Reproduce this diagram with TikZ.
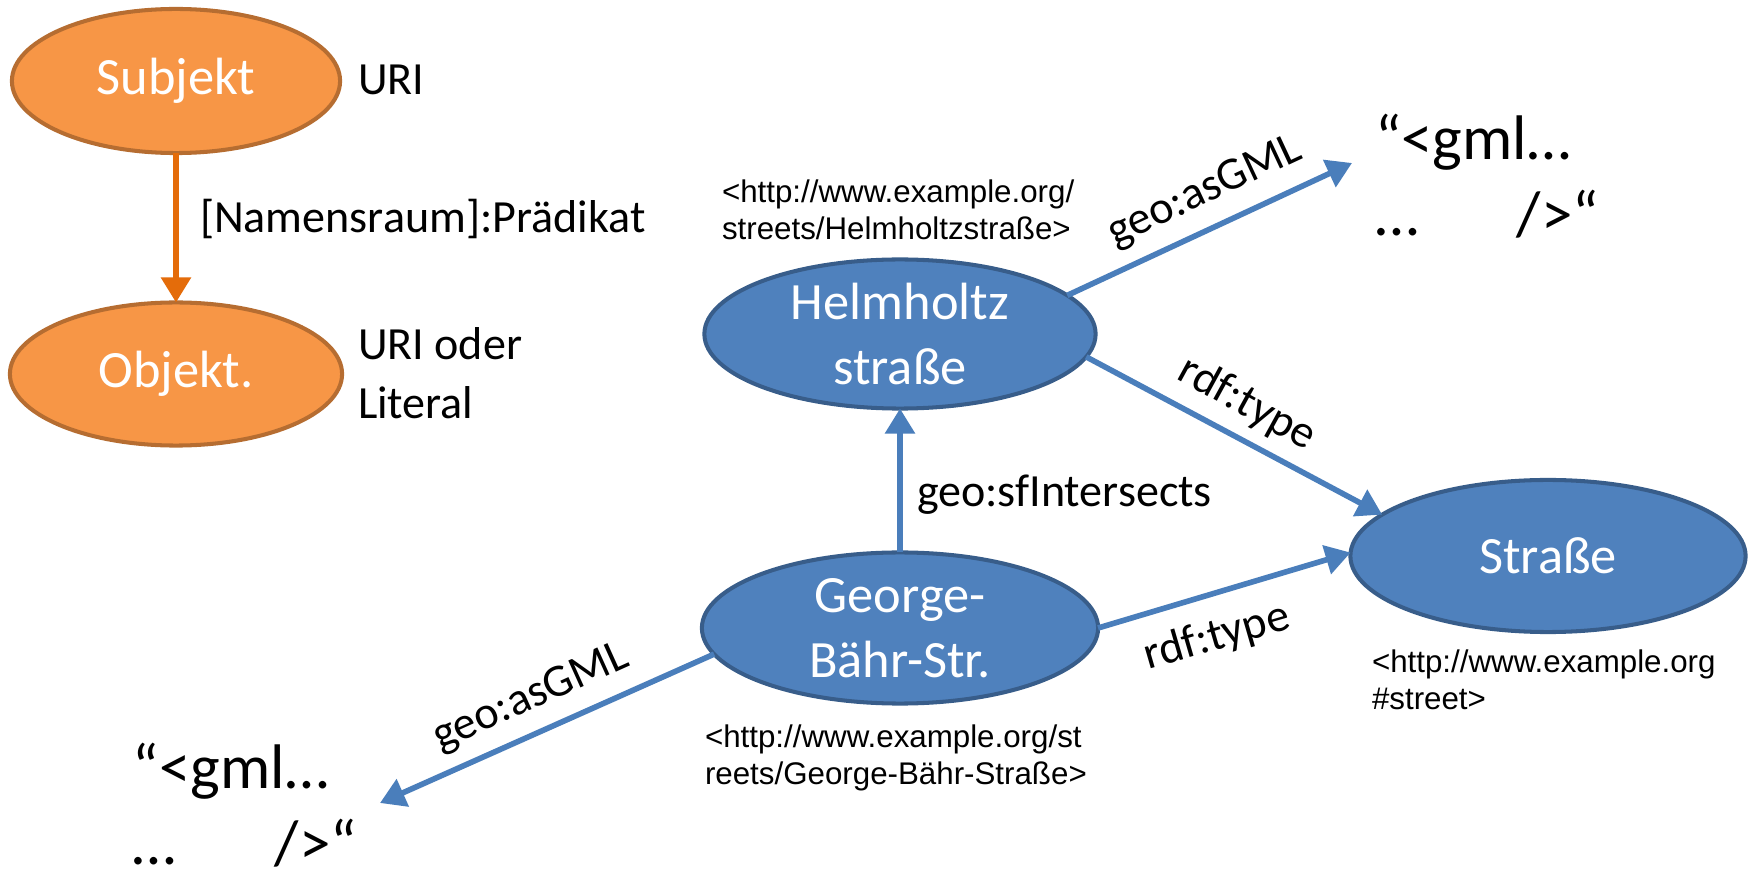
\documentclass[tikz,border=0pt]{standalone}
\usepackage{fontspec}
\setmainfont{Carlito}
\newfontfamily\urlfont{Liberation Sans}
\usetikzlibrary{shapes.geometric,arrows.meta}

\definecolor{orfill}{HTML}{F79646}
\definecolor{ordraw}{HTML}{B66D31}
\definecolor{orline}{HTML}{E46C0A}
\definecolor{bfill}{HTML}{4F81BD}
\definecolor{bdraw}{HTML}{385D8A}
\definecolor{bline}{HTML}{4A7EBB}

\begin{document}
\begin{tikzpicture}[x=0.01cm,y=-0.01cm,
  every node/.style={inner sep=0pt, outer sep=0pt},
  res/.style={ellipse, line width=1.15pt, text=white, align=center,
    font=\fontsize{14.9}{18.4}\selectfont},
  orres/.style={res, fill=orfill, draw=ordraw},
  blres/.style={res, fill=bfill, draw=bdraw},
  edge/.style={line width=1.6pt, -{Triangle[length=0.25cm,width=0.29cm]}},
  lbl/.style={font=\fontsize{13.1}{16.5}\selectfont},
  uri/.style={font=\urlfont\fontsize{8.9}{10.6}\selectfont, align=left, anchor=north west},
  gml/.style={font=\fontsize{17.9}{21.6}\selectfont, align=left, anchor=north west}
]
\path[use as bounding box] (0,0) rectangle (1750,870);

% legend: subject -- predicate --> object
\node[orres, minimum width=3.28cm, minimum height=1.44cm] (subj) at (176,81) {Subjekt};
\node[orres, minimum width=3.32cm, minimum height=1.43cm] (obj) at (176,374) {Objekt.};
\node[lbl, anchor=base west] (subjuri) at (358,95) {URI};
\node[lbl, align=left, anchor=north west] (objuri) at (358,328) {URI oder\\Literal};
\draw[edge, orline] (subj.south) -- (obj.north);
\node[lbl, anchor=base west] (pred) at (200,233) {[Namensraum]:Prädikat};

% resources
\node[blres, minimum width=3.91cm, minimum height=1.49cm] (helm) at (900,334) {Helmholtz\\straße};
\node[blres, minimum width=3.96cm, minimum height=1.51cm] (george) at (900,628) {George-\\Bähr-Str.};
\node[blres, minimum width=3.95cm, minimum height=1.52cm] (strasse) at (1548,556) {Straße};

% URIs of the resources
\node[uri] (helmuri) at (722,180) {<http://www.example.org/\\streets/Helmholtzstraße>};
\node[uri] (georgeuri) at (705,725) {<http://www.example.org/st\\reets/George-Bähr-Straße>};
\node[uri] (strasseuri) at (1372,650) {<http://www.example.org\\\#street>};

% GML literals
\node[gml] (gmlA) at (1375,114) {“<gml…\\…\hspace{28pt}/>“};
\node[gml] (gmlB) at (133,743) {“<gml…\\…\hspace{28pt}/>“};
\coordinate (gmlAtip) at (1352,163);
\coordinate (gmlBtip) at (380,803);

% triples
\draw[edge, bline] (helm.13) -- (gmlAtip);
\draw[edge, bline] (helm.-7) -- (strasse.166);
\draw[edge, bline] (george.north) -- (helm.south);
\draw[edge, bline] (george.east) -- (strasse.179);
\draw[edge, bline] (george.188) -- (gmlBtip);

% predicate labels
\node[lbl, rotate=25] (lA) at (1205,192) {geo:asGML};
\node[lbl, rotate=-28.7] (lB) at (1247,404) {rdf:type};
\node[lbl, anchor=base west] (lC) at (917,507) {geo:sfIntersects};
\node[lbl, rotate=16.2] (lD) at (1217,637) {rdf:type};
\node[lbl, rotate=24.3] (lE) at (531,698) {geo:asGML};
\end{tikzpicture}
\end{document}
